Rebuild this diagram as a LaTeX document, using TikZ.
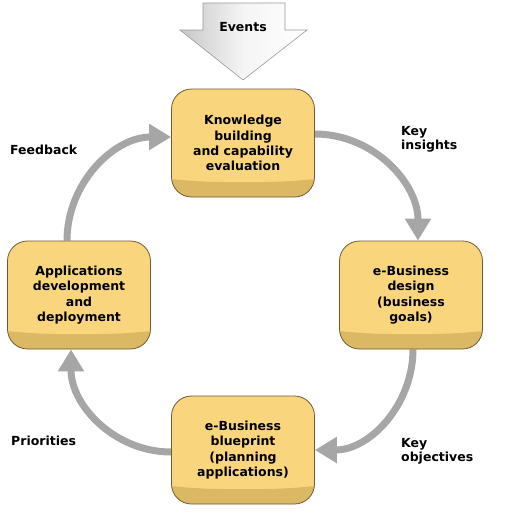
\documentclass[tikz,border=0pt]{standalone}
\usepackage{fontspec}
\setmainfont{DejaVu Sans}
\usetikzlibrary{arrows.meta}
\definecolor{boxYellow}{RGB}{249,214,126}
\definecolor{boxDark}{RGB}{218,184,100}
\definecolor{boxLine}{RGB}{112,92,52}
\definecolor{flowGray}{RGB}{166,166,166}
\tikzset{
    BOX/.style={shape=rectangle, draw=boxLine, fill=boxYellow, line width=0.8pt,
        rounded corners=20pt, minimum width=143pt, minimum height=108pt,
        align=center, inner sep=2pt, font={\fontsize{12.5}{15.3}\selectfont\bfseries},
        path picture={
            \fill[boxDark] ([yshift=36pt]path picture bounding box.south west)
                .. controls ([yshift=18pt]path picture bounding box.south west) ..
                ([xshift=30pt,yshift=15pt]path picture bounding box.south west)
                -- ([xshift=-30pt,yshift=15pt]path picture bounding box.south east)
                .. controls ([yshift=18pt]path picture bounding box.south east) ..
                ([yshift=36pt]path picture bounding box.south east)
                -- (path picture bounding box.south east)
                -- (path picture bounding box.south west) -- cycle;
        }},
    LABEL/.style={align=left, anchor=west, inner sep=0pt,
        font={\fontsize{12.5}{14}\selectfont\bfseries}},
    FLOW/.style={draw=flowGray, line width=7pt,
        -{Triangle[width=25pt,length=22pt]}}
}
\pgfdeclarelayer{edgelayer}
\pgfdeclarelayer{nodelayer}
\pgfsetlayers{edgelayer,nodelayer,main}

\begin{document}
\begin{tikzpicture}[x=1pt, y=-1pt]
    \useasboundingbox (0,0) rectangle (504,512);
    \begin{pgfonlayer}{nodelayer}
        \node [inner sep=0pt, font={\fontsize{12.5}{14}\selectfont\bfseries}] (0) at (243,27) {Events};
        \node [BOX] (1) at (243,143) {Knowledge\\building\\and capability\\evaluation};
        \node [BOX] (2) at (411,295) {e-Business\\design\\(business\\goals)};
        \node [BOX] (3) at (243,450) {e-Business\\blueprint\\(planning\\applications)};
        \node [BOX] (4) at (79,295) {Applications\\development\\and\\deployment};
        \node [LABEL] (5) at (401,139) {Key\\insights};
        \node [LABEL] (6) at (401,451) {Key\\objectives};
        \node [LABEL] (7) at (11,441) {Priorities};
        \node [LABEL] (8) at (10,150) {Feedback};
    \end{pgfonlayer}
    \begin{pgfonlayer}{edgelayer}
        % incoming events
        \shade[left color=black!22, right color=white, middle color=black!4,
            draw=black!40, line width=0.6pt]
            (203,3) -- (285,3) -- (285,30) -- (307,30) -- (243,80)
            -- (180,30) -- (203,30) -- cycle;
        \draw[FLOW] ([yshift=9pt]1.east) to[out=0, in=90] ([xshift=7pt]2.north);
        \draw[FLOW] ([xshift=2pt]2.south) to[out=270, in=0] (3.east);
        \draw[FLOW] ([yshift=-2pt]3.west) to[out=180, in=270] ([xshift=-8pt]4.south);
        \draw[FLOW] ([xshift=-12pt]4.north) to[out=90, in=180] ([yshift=6pt]1.west);
    \end{pgfonlayer}
\end{tikzpicture}
\end{document}
